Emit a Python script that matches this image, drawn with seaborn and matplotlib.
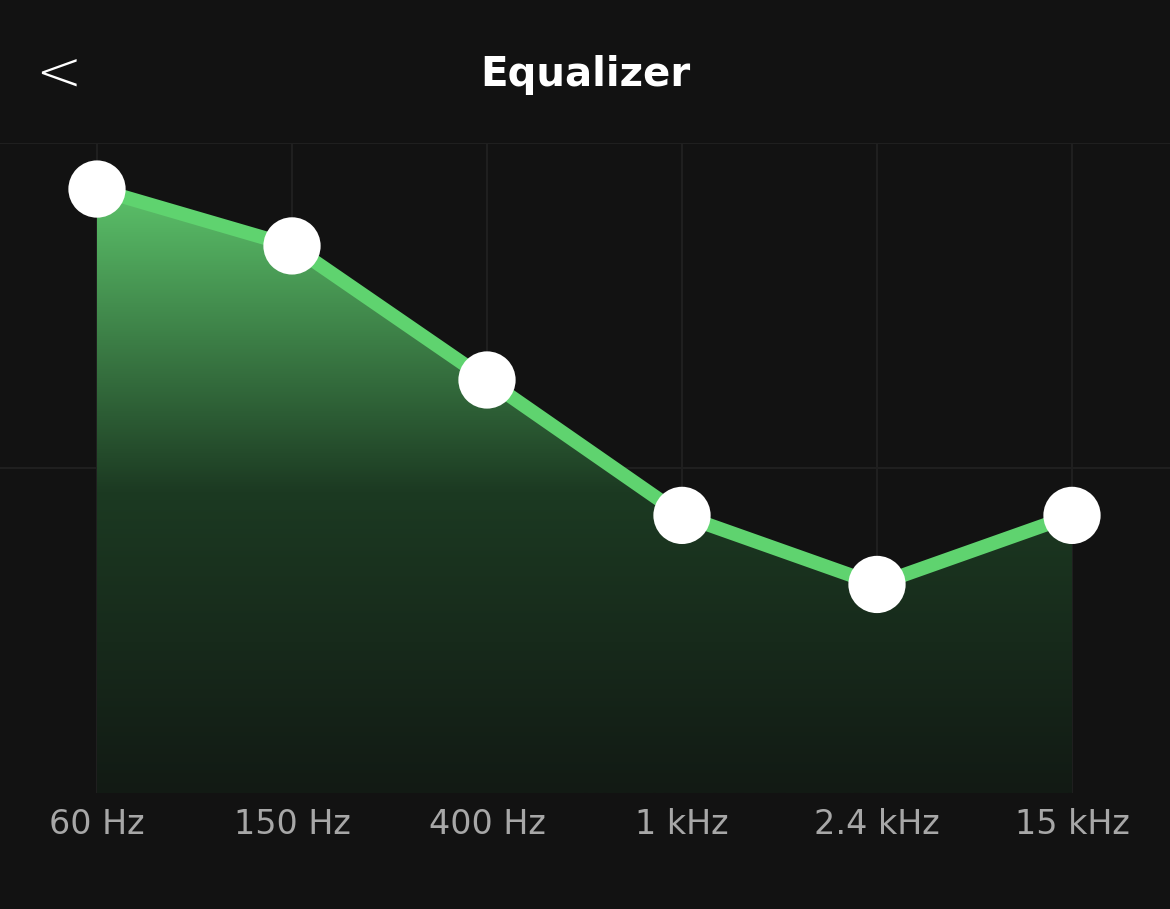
import numpy as np
import pandas as pd
import matplotlib
matplotlib.use("Agg")
import matplotlib.pyplot as plt
import seaborn as sns
from matplotlib.colors import LinearSegmentedColormap

bands = ["60 Hz", "150 Hz", "400 Hz", "1 kHz", "2.4 kHz", "15 kHz"]
gains = [10.3, 8.2, 3.25, -1.75, -4.3, -1.75]
ymin, ymax = -12, 12

sns.set_theme(style="dark")
plt.rcParams['font.family'] = ['DejaVu Sans']
bg = "#121212"
fig = plt.figure(figsize=(11.7, 9.09), dpi=100, facecolor=bg)
ax = fig.add_axes([0, (909-793)/909, 1, 650/909])
ax.set_facecolor(bg)
df = pd.DataFrame({"x": np.arange(len(bands)), "g": gains})
ax.set_xlim((0-97)/195, (1170-97)/195)
ax.set_ylim(ymin, ymax)

for i in range(len(bands)):
    ax.axvline(i, color="#1f1f1f", lw=1.5, zorder=0)
for yv in (0, ymax):
    ax.axhline(yv, color="#1f1f1f", lw=1.5, zorder=0)

poly = ax.fill_between(df["x"], gains, ymin, color="none", lw=0)
cmap = LinearSegmentedColormap.from_list("g", ["#121a14", "#1c3a22", "#5cc26a"])
grad = np.linspace(0, 1, 256).reshape(-1, 1)
im = ax.imshow(grad, extent=[0, len(bands)-1, ymin, max(gains)], origin="lower",
               aspect="auto", cmap=cmap, zorder=1)
im.set_clip_path(poly.get_paths()[0], transform=ax.transData)

sns.lineplot(data=df, x="x", y="g", ax=ax, color="#5fd36f", lw=10, zorder=2,
             solid_capstyle="round")
sns.scatterplot(data=df, x="x", y="g", ax=ax, color="white", s=1700, zorder=3,
                edgecolor="none")
ax.set_xticks([]); ax.set_yticks([])
ax.set_xlabel(""); ax.set_ylabel("")
for s in ax.spines.values():
    s.set_visible(False)
for i, b in enumerate(bands):
    ax.annotate(b, (i, ymin), xytext=(0, -23),
                textcoords="offset points", ha="center", va="center",
                color="#a7a7a7", fontsize=24, annotation_clip=False)
fig.text(0.5, 1-75/909, "Equalizer", color="white", fontsize=29, fontweight="bold",
         ha="center", va="center")
fig.text(58/1170, 1-76/909, "<", color="white", fontsize=40, ha="center", va="center",
         fontweight="light")
fig.savefig("out.png", facecolor=bg)
